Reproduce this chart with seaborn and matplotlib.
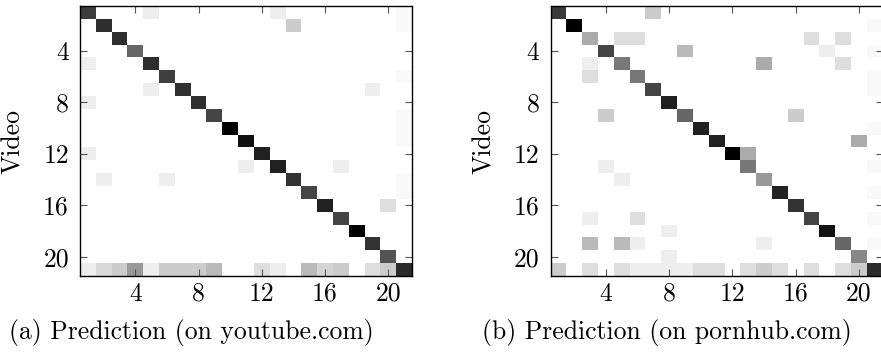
import numpy as np
import pandas as pd
import seaborn as sns
import matplotlib
matplotlib.use("Agg")
import matplotlib.pyplot as plt

N = 21
classes = list(range(1, N + 1))
tick_values = [4, 8, 12, 16, 20]

# (a) youtube.com
yt_diag = [0.76, 0.82, 0.82, 0.60, 0.82, 0.75, 0.81, 0.81, 0.73, 1.00, 0.93,
           0.87, 0.87, 0.80, 0.73, 0.87, 0.73, 1.00, 0.80, 0.67, 0.83]
yt_last_row = [0.07, 0.15, 0.20, 0.40, 0.07, 0.20, 0.20, 0.20, 0.27, 0.0, 0.0,
               0.13, 0.07, 0.0, 0.27, 0.17, 0.20, 0.0, 0.13, 0.20, 0.83]
yt_off = [(1, 5, .07), (1, 13, .07), (2, 14, .20), (5, 1, .07), (7, 5, .07),
          (7, 19, .07), (8, 1, .07), (12, 1, .07), (13, 11, .07), (13, 17, .07),
          (14, 2, .07), (14, 6, .07), (16, 20, .13)]
yt_last_col_faint = [1, 2, 6, 9, 10, 11, 14, 15]

# (b) pornhub.com
ph_diag = [0.77, 1.00, 0.33, 0.73, 0.53, 0.53, 0.73, 0.87, 0.60, 0.87, 0.87,
           1.00, 0.53, 0.40, 0.87, 0.80, 0.73, 0.93, 0.60, 0.47, 0.83]
ph_last_row = [0.20, 0.0, 0.13, 0.0, 0.13, 0.07, 0.07, 0.07, 0.07, 0.13, 0.13,
               0.0, 0.13, 0.20, 0.13, 0.0, 0.13, 0.0, 0.13, 0.20, 0.83]
ph_off = [(1, 7, .20), (3, 5, .13), (3, 6, .13), (3, 17, .13), (3, 19, .13),
          (4, 9, .27), (4, 18, .07), (5, 3, .07), (5, 14, .33), (5, 19, .13),
          (6, 3, .13), (9, 4, .20), (9, 16, .20), (11, 20, .33), (12, 13, .33),
          (13, 4, .07), (14, 5, .07), (17, 3, .07), (17, 6, .13), (18, 8, .07),
          (19, 3, .27), (19, 5, .27), (19, 6, .07), (19, 14, .07), (20, 8, .07)]
ph_last_col_faint = [2, 4, 6, 7, 10, 13, 15, 17, 19]

captions = ["(a) Prediction (on youtube.com)", "(b) Prediction (on pornhub.com)"]


def build(diag, last_row, off, faint):
    m = np.zeros((N, N))
    for i, v in enumerate(diag):
        m[i, i] = v
    for r, c, v in off:
        m[r - 1, c - 1] = v
    for r in faint:
        m[r - 1, N - 1] = 0.025
    m[N - 1, :] = last_row
    return pd.DataFrame(m, index=classes, columns=classes)


mats = [build(yt_diag, yt_last_row, yt_off, yt_last_col_faint),
        build(ph_diag, ph_last_row, ph_off, ph_last_col_faint)]

plt.rcParams["font.family"] = ["cmr10", "DejaVu Serif"]
plt.rcParams["axes.formatter.use_mathtext"] = True

FS = 18.5
fig = plt.figure(figsize=(8.81, 3.6), dpi=100)
W, H = 881.0, 360.0
lefts = [80.0, 550.6]
cap_x = [191.0, 667.0]
for k in range(2):
    ax = fig.add_axes([lefts[k] / W, 1 - 276 / H, 332 / W, 270 / H])
    sns.heatmap(mats[k], ax=ax, cmap="gray_r", vmin=0, vmax=1, cbar=False,
                xticklabels=False, yticklabels=False)
    for s in ax.spines.values():
        s.set_visible(True)
        s.set_color("black")
        s.set_linewidth(1.0)
    pos = [v - 0.5 for v in tick_values]
    ax.set_xticks(pos)
    ax.set_xticklabels([str(v) for v in tick_values])
    ax.set_yticks(pos)
    ax.set_yticklabels([str(v) for v in tick_values])
    ax.tick_params(axis="both", which="both", direction="in", length=5,
                   width=0.8, color="#555555", labelsize=FS,
                   top=True, right=True, labeltop=False, labelright=False,
                   labelrotation=0)
    ax.tick_params(axis="x", pad=4.5)
    ax.tick_params(axis="y", pad=8)
    ax.set_ylabel("Video", fontsize=FS)
    ax.yaxis.set_label_coords(-0.166, 0.5)
    ax.set_xlabel("")
    fig.text(cap_x[k] / W, 1 - 332 / H, captions[k], ha="center", va="center",
             fontsize=FS)

fig.savefig("out.png", dpi=100)
